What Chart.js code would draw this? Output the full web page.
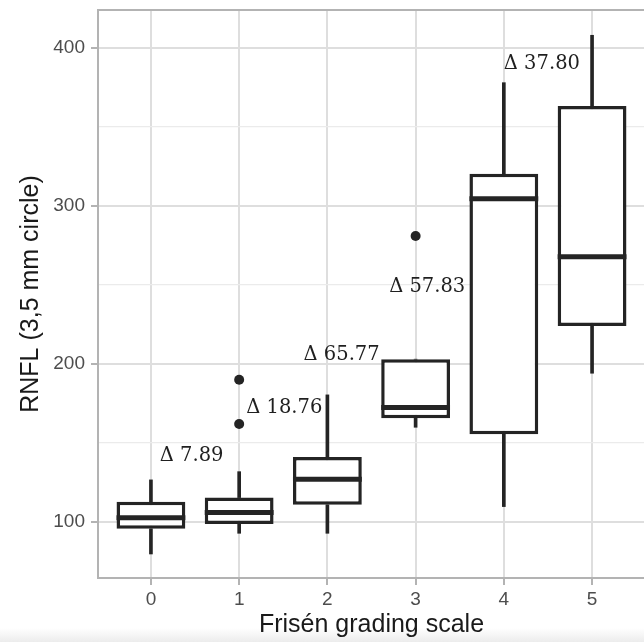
<!DOCTYPE html>
<html>
<head>
<meta charset="utf-8">
<script src="https://cdn.jsdelivr.net/npm/chart.js@4"></script>
<style>
    html, body {
        margin: 0;
        padding: 0;
        background: #ffffff;
        overflow: hidden;
    }
    #wrap {
        position: relative;
        width: 644px;
        height: 642px;
        overflow: hidden;
    }
    #band {
        position: absolute;
        left: 0;
        bottom: 0;
        width: 644px;
        height: 14px;
        background: linear-gradient(to bottom, rgba(236,236,236,0), #ececec);
    }
    #boxChart {
        position: relative;
    }
</style>
</head>
<body>
<div id="wrap">
    <div id="band"></div>
    <canvas id="boxChart" width="650" height="642"></canvas>
</div>
<script>
// =====================================
// Data
// =====================================

const grades = [0, 1, 2, 3, 4, 5];

const whiskerLow  = [79.7, 92.8, 92.8, 159.9, 109.7, 194.1];
const q1          = [95.6, 98.7, 110.8, 165.6, 155.5, 224.0];
const median      = [102.7, 106.0, 127.0, 172.4, 304.6, 267.9];
const q3          = [112.8, 115.4, 141.1, 203.0, 320.3, 363.3];
const whiskerHigh = [126.6, 131.8, 180.4, 203.0, 378.0, 408.0];

const outlierGrade = [1, 1, 3];
const outlierValue = [190, 162, 281];

const deltaText  = ["\u0394 7.89", "\u0394 18.76", "\u0394 65.77", "\u0394 57.83", "\u0394 37.80"];
const deltaGrade = [0.10, 1.08, 1.73, 2.70, 4.00];
const deltaValue = [141.8, 172.0, 205.7, 248.5, 389.7];

const yMajor = [100, 200, 300, 400];
const yMinor = [150, 250, 350];

// =====================================
// Styles
// =====================================

const INK = "#242424";
const GRID = "#dedede";
const GRID_MINOR = "#ebebeb";
const FRAME = "#b3b3b3";
const SANS = "'Liberation Sans', Arial, sans-serif";

// =====================================
// Plugins
// =====================================

// median bars + panel frame + delta labels
const boxExtras = {
    id: "boxExtras",
    beforeDatasetsDraw(chart) {
        const ctx = chart.ctx;
        const a = chart.chartArea;
        ctx.save();
        ctx.strokeStyle = FRAME;
        ctx.lineWidth = 2;
        ctx.strokeRect(a.left, a.top, a.right - a.left, a.bottom - a.top);
        ctx.restore();
    },
    afterDatasetsDraw(chart) {
        const ctx = chart.ctx;
        const x = chart.scales.x;
        const y = chart.scales.y;
        const boxes = chart.getDatasetMeta(2);

        ctx.save();

        // medians
        ctx.strokeStyle = INK;
        ctx.lineWidth = 5;
        boxes.data.forEach((bar, i) => {
            const py = y.getPixelForValue(median[i]);
            ctx.beginPath();
            ctx.moveTo(bar.x - bar.width / 2, py);
            ctx.lineTo(bar.x + bar.width / 2, py);
            ctx.stroke();
        });

        // delta labels
        ctx.fillStyle = "#1f1f1f";
        ctx.font = "19.5px 'DejaVu Serif', serif";
        ctx.textAlign = "left";
        ctx.textBaseline = "middle";
        deltaText.forEach((t, i) => {
            ctx.fillText(t, x.getPixelForValue(deltaGrade[i]), y.getPixelForValue(deltaValue[i]));
        });

        ctx.restore();
    }
};

// =====================================
// Chart
// =====================================

const chart = new Chart(document.getElementById("boxChart"), {
    type: "bar",
    data: {
        datasets: [
            {
                // lower whiskers
                data: grades.map((g, i) => ({ x: g, y: [whiskerLow[i], q1[i]] })),
                backgroundColor: INK,
                borderWidth: 0,
                barThickness: 3,
                grouped: false
            },
            {
                // upper whiskers
                data: grades.map((g, i) => ({ x: g, y: [q3[i], whiskerHigh[i]] })),
                backgroundColor: INK,
                borderWidth: 0,
                barThickness: 3,
                grouped: false
            },
            {
                // boxes
                data: grades.map((g, i) => ({ x: g, y: [q1[i], q3[i]] })),
                backgroundColor: "#ffffff",
                borderColor: INK,
                borderWidth: 3.5,
                borderSkipped: false,
                barPercentage: 0.78,
                categoryPercentage: 1,
                grouped: false
            },
            {
                type: "scatter",
                data: outlierGrade.map((g, i) => ({ x: g, y: outlierValue[i] })),
                backgroundColor: INK,
                borderWidth: 0,
                pointRadius: 5
            }
        ]
    },
    options: {
        responsive: false,
        animation: false,
        layout: {
            padding: { left: 0, right: 2, top: 10, bottom: 0 }
        },
        plugins: {
            legend: { display: false },
            tooltip: { enabled: false }
        },
        scales: {
            x: {
                type: "linear",
                min: -0.6,
                max: 5.6,
                offset: false,
                afterBuildTicks(scale) {
                    scale.ticks = grades.map(v => ({ value: v }));
                },
                afterFit(scale) {
                    scale.height = 64;
                    scale.paddingLeft = 0;
                    scale.paddingRight = 0;
                },
                ticks: {
                    color: "#4d4d4d",
                    font: { family: SANS, size: 19 },
                    padding: 3,
                    maxRotation: 0,
                    callback: v => String(v)
                },
                grid: {
                    offset: false,
                    color: GRID,
                    lineWidth: 2,
                    tickColor: FRAME,
                    tickLength: 7
                },
                border: { display: true, color: FRAME, width: 2 },
                title: {
                    display: true,
                    text: "Frisén grading scale",
                    color: "#1a1a1a",
                    font: { family: SANS, size: 25 },
                    padding: { top: 0, bottom: 2 }
                }
            },
            y: {
                min: 64.5,
                max: 424,
                afterBuildTicks(scale) {
                    scale.ticks = yMajor.concat(yMinor).sort((a, b) => a - b).map(v => ({ value: v }));
                },
                afterFit(scale) {
                    scale.width = 98;
                    scale.paddingTop = 0;
                    scale.paddingBottom = 0;
                },
                ticks: {
                    color: "#4d4d4d",
                    font: { family: SANS, size: 19 },
                    padding: 6,
                    callback: v => (yMajor.includes(v) ? String(v) : "")
                },
                grid: {
                    color: c => (c.tick && yMajor.includes(c.tick.value) ? GRID : GRID_MINOR),
                    lineWidth: c => (c.tick && yMajor.includes(c.tick.value) ? 2 : 1.2),
                    tickColor: c => (c.tick && yMajor.includes(c.tick.value) ? FRAME : "rgba(0,0,0,0)"),
                    tickLength: 7
                },
                border: { display: true, color: FRAME, width: 2 },
                title: {
                    display: true,
                    text: "RNFL (3,5 mm circle)",
                    color: "#1a1a1a",
                    font: { family: SANS, size: 25 },
                    padding: { top: 16, bottom: 0 }
                }
            }
        }
    },
    plugins: [boxExtras]
});
</script>
</body>
</html>
